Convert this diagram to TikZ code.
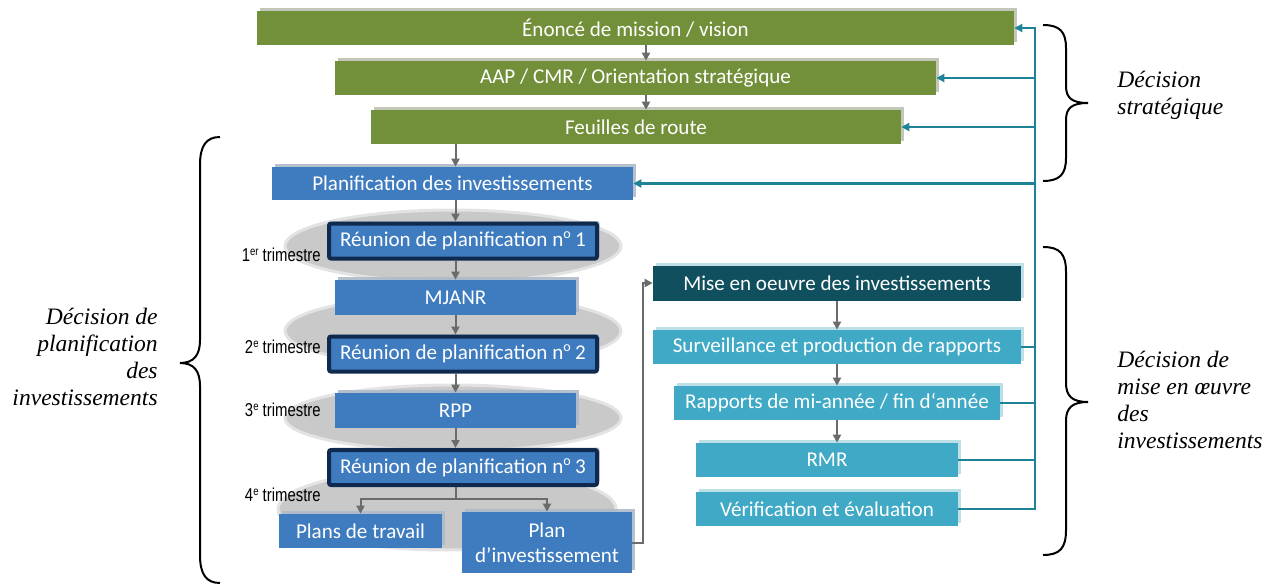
\documentclass[tikz,border=0pt]{standalone}
\usepackage{fontspec}
\setmainfont{Carlito}
\newfontfamily\serifit{Liberation Serif}
\newfontfamily\arialf[FakeStretch=0.8]{Liberation Sans}
\usetikzlibrary{arrows.meta,shadows}
\definecolor{cgreen}{HTML}{72903A}
\definecolor{cgshadow}{HTML}{BDC1B2}
\definecolor{cblue}{HTML}{3F7CBF}
\definecolor{cbshadow}{HTML}{AEBACB}
\definecolor{cnavy}{HTML}{0F2A4E}
\definecolor{cdteal}{HTML}{0F4F5E}
\definecolor{clteal}{HTML}{40AAC6}
\definecolor{ctshadow}{HTML}{B5DBE6}
\definecolor{cline}{HTML}{1E8397}
\definecolor{carrow}{HTML}{6B6B6B}
\definecolor{cell}{HTML}{C9C9C9}
\tikzset{
  wh/.style 2 args={minimum width=#1*0.02cm, minimum height=#2*0.02cm},
  box/.style={rectangle, inner sep=0pt, text=white, align=center,
    font=\fontsize{12}{14.5}\selectfont},
  gbox/.style={box, fill=cgreen, drop shadow={shadow xshift=0.05cm, shadow yshift=0.06cm, fill=cgshadow, opacity=0.9}},
  bbox/.style={box, fill=cblue, drop shadow={shadow xshift=0.05cm, shadow yshift=0.06cm, fill=cbshadow, opacity=0.9}},
  rbox/.style={box, fill=cblue, draw=cnavy, line width=0.08cm, rounded corners=0.04cm,
    drop shadow={shadow xshift=0.05cm, shadow yshift=0.05cm, fill=cbshadow, opacity=0.9}},
  dbox/.style={box, fill=cdteal, drop shadow={shadow xshift=0.05cm, shadow yshift=0.06cm, fill=ctshadow, opacity=0.9}},
  tbox/.style={box, fill=clteal, drop shadow={shadow xshift=0.05cm, shadow yshift=0.06cm, fill=ctshadow, opacity=0.9}},
  garrow/.style={draw=carrow, line width=0.04cm, -{Triangle[length=4.5pt,width=4.5pt]}},
  tline/.style={draw=cline, line width=0.045cm},
  tarrow/.style={tline, -{Triangle[length=4.5pt,width=4.5pt]}},
  brace/.style={draw=black, line width=0.04cm},
  trim/.style={font=\arialf\fontsize{10.6}{12}\selectfont, inner sep=0pt, anchor=east},
  bracetxt/.style={font=\serifit\itshape\fontsize{13.4}{15.3}\selectfont, inner sep=0pt}
}
\newcommand\supr[1]{\raisebox{0.6ex}{\fontsize{6.8}{7}\selectfont #1}}
\begin{document}
\begin{tikzpicture}[x=0.02cm,y=-0.02cm]
\useasboundingbox (0,0) rectangle (1275,588);
% ellipses
\fill[cell, draw=gray!22, line width=0.06cm] (453,246) ellipse [x radius=168, y radius=36];
\fill[cell, draw=gray!22, line width=0.06cm] (453,331) ellipse [x radius=168, y radius=36];
\fill[cell, draw=gray!22, line width=0.06cm] (453,418) ellipse [x radius=168, y radius=33];
\fill[cell, draw=gray!22, line width=0.06cm] (447,509) ellipse [x radius=169, y radius=41];
% boxes
\node[gbox, wh={757}{34}] (mission) at (635.5,28) {Énoncé de mission / vision};
\node[gbox, wh={601}{34}] (aap) at (635.5,78) {AAP / CMR / Orientation stratégique};
\node[gbox, wh={530}{34}] (feuilles) at (636,127) {Feuilles de route};
\node[bbox, wh={361}{33}] (planif) at (452.5,183.5) {Planification des investissements};
\node[rbox, wh={268}{35}] (r1) at (463,241) {Réunion de planification n\textsuperscript{o}\,1};
\node[bbox, wh={241}{35}] (mjanr) at (455.5,297.5) {MJANR};
\node[rbox, wh={268}{35}] (r2) at (463,354) {Réunion de planification n\textsuperscript{o}\,2};
\node[bbox, wh={241}{35}] (rpp) at (455.5,410.5) {RPP};
\node[rbox, wh={268}{35}] (r3) at (463,467.5) {Réunion de planification n\textsuperscript{o}\,3};
\node[bbox, wh={163}{34}] (plans) at (360.5,531) {Plans de travail};
\node[bbox, wh={170}{61}] (planinv) at (547,542.5) {Plan\\d’investissement};
\node[dbox, wh={368}{35}] (mise) at (837,283) {Mise en oeuvre des investissements};
\node[tbox, wh={368}{34}] (surv) at (837,347) {Surveillance et production de rapports};
\node[tbox, wh={326}{34}] (rapp) at (837,403) {Rapports de mi-année / fin d‘année};
\node[tbox, wh={262}{34}] (rmr) at (827,460) {RMR};
\node[tbox, wh={262}{34}] (verif) at (827,509) {Vérification et évaluation};
% trimestre labels
\node[trim] (t1) at (321,255) {1\supr{er} trimestre};
\node[trim] (t2) at (321,347) {2\supr{e} trimestre};
\node[trim] (t3) at (321,410) {3\supr{e} trimestre};
\node[trim] (t4) at (321,495) {4\supr{e} trimestre};
% grey arrows
\coordinate (ga) at (646,0);
\draw[garrow] (mission.south -| ga) -- (aap.north -| ga);
\draw[garrow] (aap.south -| ga) -- (feuilles.north -| ga);
\draw[garrow] (feuilles.south -| mjanr) -- (planif.north -| mjanr);
\draw[garrow] (planif.south -| mjanr) -- (r1.north -| mjanr);
\draw[garrow] (r1.south -| mjanr) -- (mjanr.north);
\draw[garrow] (mjanr.south) -- (r2.north -| mjanr);
\draw[garrow] (r2.south -| mjanr) -- (rpp.north);
\draw[garrow] (rpp.south) -- (r3.north -| mjanr);
\coordinate (split) at (456,499);
\draw[garrow] (r3.south -| split) -- (split) -| (plans.north);
\draw[garrow] (split) -| (planinv.north);
\coordinate (turn) at (643,543);
\draw[garrow] (planinv.east |- turn) -- (turn) |- (mise.west);
\draw[garrow] (mise.south) -- (surv.north);
\draw[garrow] (surv.south) -- (rapp.north);
\draw[garrow] (rapp.south) -- (rapp.south |- rmr.north);
% teal feedback
\coordinate (vtop) at (1035,28);
\draw[tarrow] (verif.east) -| (vtop) -- (mission.east);
\draw[tarrow] (aap.east -| vtop) -- (aap.east);
\draw[tarrow] (feuilles.east -| vtop) -- (feuilles.east);
\draw[tarrow] (planif.east -| vtop) -- (planif.east);
\draw[tline] (surv.east) -- (surv.east -| vtop);
\draw[tline] (rapp.east) -- (rapp.east -| vtop);
\draw[tline] (rmr.east) -- (rmr.east -| vtop);
% braces
\draw[brace] (1043,25) .. controls (1060,25) and (1066,32) .. (1066,48) -- (1066,86)
  .. controls (1066,98) and (1072,103) .. (1088,103)
  .. controls (1072,103) and (1066,108) .. (1066,120) -- (1066,158)
  .. controls (1066,174) and (1060,181) .. (1043,181);
\draw[brace] (1043,247) .. controls (1060,247) and (1066,254) .. (1066,272) -- (1066,383)
  .. controls (1066,396) and (1072,402) .. (1088,402)
  .. controls (1072,402) and (1066,408) .. (1066,421) -- (1066,530)
  .. controls (1066,548) and (1060,555) .. (1043,555);
\draw[brace] (220,137) .. controls (206,137) and (200,146) .. (200,165) -- (200,340)
  .. controls (200,355) and (194,363) .. (180,363)
  .. controls (194,363) and (200,371) .. (200,386) -- (200,555)
  .. controls (200,574) and (206,583) .. (220,583);
\node[bracetxt, anchor=west, align=left] (bs) at (1117,95) {Décision\\stratégique};
\node[bracetxt, anchor=west, align=left] (bm) at (1117,400) {Décision de\\mise en œuvre\\des\\investissements};
\node[bracetxt, anchor=east, align=right] (bp) at (158,357) {Décision de\\planification\\des\\investissements};
\end{tikzpicture}
\end{document}
